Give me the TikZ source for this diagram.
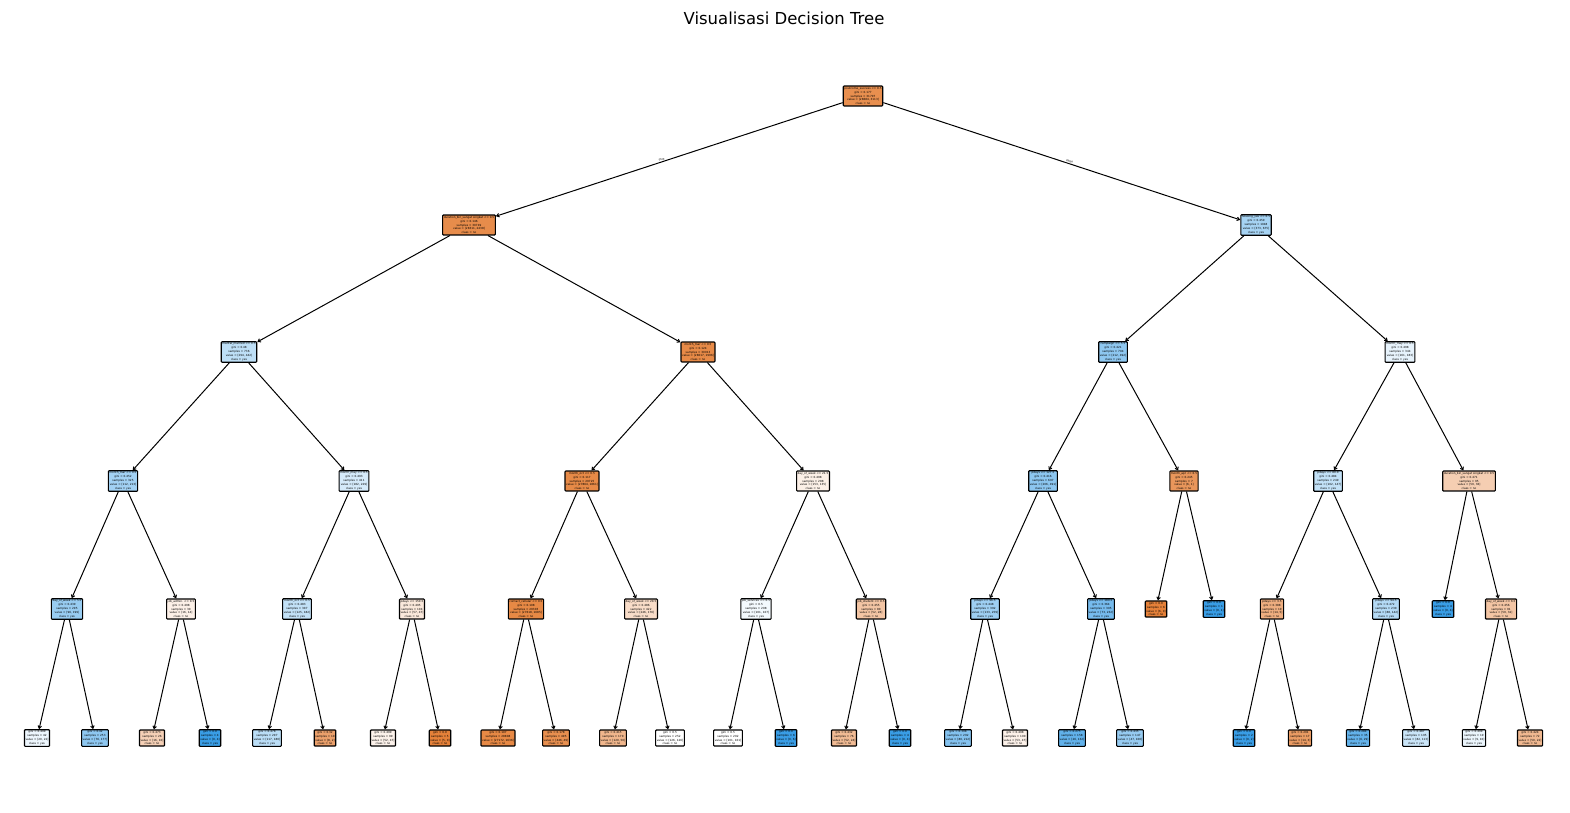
\documentclass[tikz,border=0pt]{standalone}
\usepackage{fontspec}
\setmainfont{DejaVu Sans}
\usetikzlibrary{arrows.meta}

\definecolor{treeorange}{HTML}{E58139}
\definecolor{treeblue}{HTML}{399DE5}

\tikzset{
	treebox/.style={draw=black, line width=1.1pt, rounded corners=0.8pt, align=center, inner sep=1.1pt, font=\fontsize{2.8}{3.9}\selectfont},
	treearrow/.style={-{Straight Barb[length=2.5pt,width=3.5pt]}, line width=1pt},
	edgelabel/.style={font=\fontsize{2.8}{3.4}\selectfont, sloped, above, inner sep=0.8pt},
}

\begin{document}
\begin{tikzpicture}[x=1pt,y=-1pt]
	
	\useasboundingbox (0,0) rectangle (1570,812);
	
	% Title
	\node[font=\fontsize{16.5}{19}\selectfont] (title) at (784,18) {Visualisasi Decision Tree};
	
	% Split nodes
	\foreach \nm/\x/\y/\ft/\g/\s/\va/\vb/\c/\f in {
		root/863/96/poutcome\_success <= 0.5/0.177/31797/28684/3113/no/treeorange!89!white,
		l/469/225/duration\_bin\_sangat singkat <= 0.5/0.146/30749/28311/2438/no/treeorange!91!white,
		r/1256/225/housing\_yes <= 0.5/0.459/1048/373/675/yes/treeblue!45!white,
		ll/239/352/marital\_married <= 0.5/0.48/736/294/442/yes/treeblue!33!white,
		lr/698/352/month\_mar <= 0.5/0.124/30013/28017/1996/no/treeorange!93!white,
		rl/1113/352/campaign <= 5.5/0.421/704/212/492/yes/treeblue!57!white,
		rr/1400/352/month\_may <= 0.5/0.498/344/161/183/yes/treeblue!12!white,
		lll/123/481/month\_mar <= 0.5/0.452/325/112/213/yes/treeblue!47!white,
		llr/354/481/month\_may <= 0.5/0.493/411/182/229/yes/treeblue!21!white,
		lrl/582/481/month\_oct <= 0.5/0.117/29725/27864/1861/no/treeorange!93!white,
		lrr/813/481/day\_of\_week <= 21.5/0.498/288/153/135/no/treeorange!12!white,
		rll/1043/481/pdays <= 127.5/0.416/697/206/491/yes/treeblue!58!white,
		rlr/1184/481/month\_apr <= 0.5/0.245/7/6/1/no/treeorange!83!white,
		rrl/1328/481/pdays <= 80.0/0.484/249/102/147/yes/treeblue!31!white,
		rrr/1469/481/duration\_bin\_sangat singkat <= 0.5/0.471/95/59/36/no/treeorange!39!white,
		llll/67/609/day\_of\_week <= 5.5/0.439/295/96/199/yes/treeblue!52!white,
		lllr/181/609/job\_admin. <= 0.5/0.498/30/16/14/no/treeorange!12!white,
		llrl/297/609/month\_oct <= 0.5/0.483/307/125/182/yes/treeblue!31!white,
		llrr/412/609/pdays <= 150.5/0.495/104/57/47/no/treeorange!18!white,
		lrll/526/609/contact\_cellular <= 0.5/0.108/29303/27618/1685/no/treeorange!94!white,
		lrlr/641/609/day\_of\_week <= 20.5/0.486/422/246/176/no/treeorange!28!white,
		lrrl/756/609/job\_services <= 0.5/0.5/208/101/107/yes/treeblue!6!white,
		lrrr/871/609/job\_student <= 0.5/0.455/80/52/28/no/treeorange!46!white,
		rlll/985/609/pdays <= 96.5/0.448/392/133/259/yes/treeblue!49!white,
		rllr/1101/609/pdays <= 180.5/0.364/305/73/232/yes/treeblue!69!white,
		rrll/1272/609/pdays <= 3.5/0.388/19/14/5/no/treeorange!64!white,
		rrlr/1386/609/pdays <= 94.5/0.472/230/88/142/yes/treeblue!38!white,
		rrrr/1501/609/day\_of\_week <= 6.5/0.456/91/59/32/no/treeorange!46!white} {
		\node[treebox, fill=\f] (\nm) at (\x,\y) {\ft\\gini = \g\\samples = \s\\value = [\va, \vb]\\class = \c};
	}
	
	% Leaves
	\foreach \nm/\x/\y/\g/\s/\va/\vb/\c/\f in {
		lllll/37/738/0.499/42/20/22/yes/treeblue!9!white,
		llllr/95/738/0.42/253/76/177/yes/treeblue!57!white,
		lllrl/152/738/0.473/26/16/10/no/treeorange!37!white,
		lllrr/210/738/0.0/4/0/4/yes/treeblue,
		llrll/267/738/0.478/297/117/180/yes/treeblue!35!white,
		llrlr/325/738/0.32/10/8/2/no/treeorange!75!white,
		llrrl/383/738/0.499/99/52/47/no/treeorange!10!white,
		llrrr/440/738/0.0/5/5/0/no/treeorange,
		lrlll/498/738/0.107/28808/27172/1636/no/treeorange!94!white,
		lrllr/556/738/0.178/495/446/49/no/treeorange!89!white,
		lrlrl/613/738/0.415/170/120/50/no/treeorange!58!white,
		lrlrr/670/738/0.5/252/126/126/no/white,
		lrrll/728/738/0.5/202/101/101/no/white,
		lrrlr/786/738/0.0/6/0/6/yes/treeblue,
		lrrrl/844/738/0.432/76/52/24/no/treeorange!54!white,
		lrrrr/900/738/0.0/4/0/4/yes/treeblue,
		rllll/958/738/0.398/292/80/212/yes/treeblue!62!white,
		rlllr/1015/738/0.498/100/53/47/no/treeorange!11!white,
		rllrl/1072/738/0.275/158/26/132/yes/treeblue!80!white,
		rllrr/1130/738/0.435/147/47/100/yes/treeblue!53!white,
		rlrl/1156/609/0.0/6/6/0/no/treeorange,
		rlrr/1214/609/0.0/1/0/1/yes/treeblue,
		rrlll/1244/738/0.0/2/0/2/yes/treeblue,
		rrllr/1300/738/0.291/17/14/3/no/treeorange!79!white,
		rrlrl/1358/738/0.284/35/6/29/yes/treeblue!79!white,
		rrlrr/1416/738/0.487/195/82/113/yes/treeblue!27!white,
		rrrl/1443/609/0.0/4/0/4/yes/treeblue,
		rrrrl/1474/738/0.499/19/9/10/yes/treeblue!10!white,
		rrrrr/1530/738/0.424/72/50/22/no/treeorange!56!white} {
		\node[treebox, fill=\f] (\nm) at (\x,\y) {gini = \g\\samples = \s\\value = [\va, \vb]\\class = \c};
	}
	
	% Connectors
	\draw[treearrow] (root) -- node[edgelabel, pos=0.52] {True} (l);
	\draw[treearrow] (root) -- node[edgelabel, pos=0.52] {False} (r);
	\foreach \a/\b in {l/ll, l/lr, r/rl, r/rr,
		ll/lll, ll/llr, lr/lrl, lr/lrr, rl/rll, rl/rlr, rr/rrl, rr/rrr,
		lll/llll, lll/lllr, llr/llrl, llr/llrr, lrl/lrll, lrl/lrlr, lrr/lrrl, lrr/lrrr,
		rll/rlll, rll/rllr, rlr/rlrl, rlr/rlrr, rrl/rrll, rrl/rrlr, rrr/rrrl, rrr/rrrr,
		llll/lllll, llll/llllr, lllr/lllrl, lllr/lllrr, llrl/llrll, llrl/llrlr, llrr/llrrl, llrr/llrrr,
		lrll/lrlll, lrll/lrllr, lrlr/lrlrl, lrlr/lrlrr, lrrl/lrrll, lrrl/lrrlr, lrrr/lrrrl, lrrr/lrrrr,
		rlll/rllll, rlll/rlllr, rllr/rllrl, rllr/rllrr, rrll/rrlll, rrll/rrllr, rrlr/rrlrl, rrlr/rrlrr,
		rrrr/rrrrl, rrrr/rrrrr} {
		\draw[treearrow] (\a) -- (\b);
	}
\end{tikzpicture}
\end{document}
